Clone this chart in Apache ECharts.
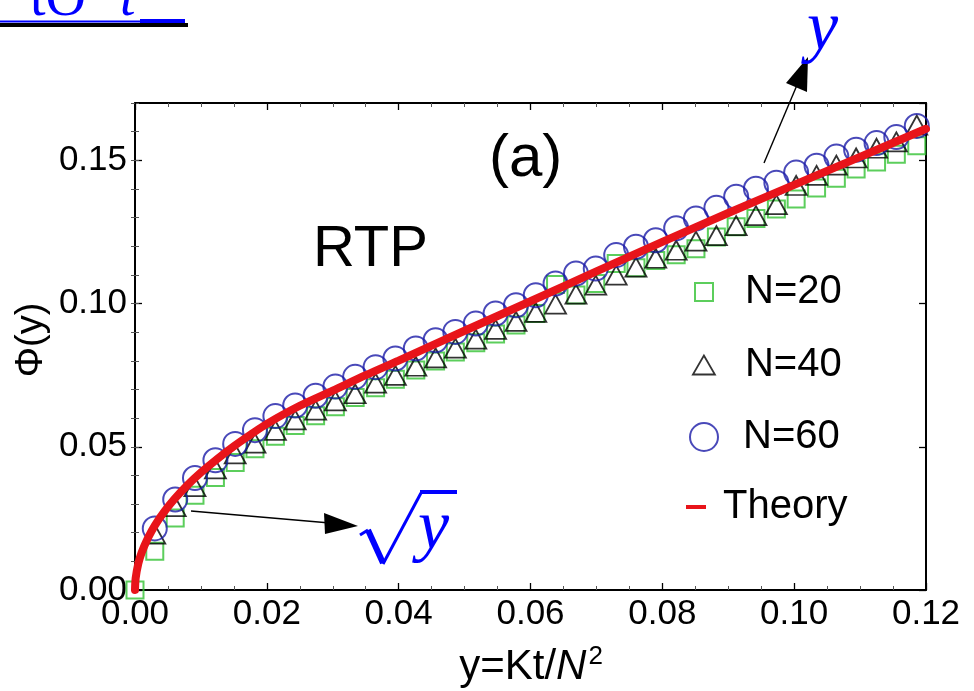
<!DOCTYPE html>
<html>
<head>
<meta charset="utf-8">
<script src="https://cdn.jsdelivr.net/npm/echarts@6/dist/echarts.min.js"></script>
<style>
  html, body { margin: 0; padding: 0; background: #fff; }
  #chart { width: 974px; height: 691px; }
</style>
</head>
<body>
<div id="chart"></div>
<script>
// Scaled time y = Kt/N^2 at which the simulated profiles were sampled
const yScaled = [0.0030, 0.0061, 0.0091, 0.0122, 0.0152, 0.0182, 0.0213, 0.0243, 0.0274, 0.0304,
                 0.0334, 0.0365, 0.0395, 0.0426, 0.0456, 0.0486, 0.0517, 0.0547, 0.0578, 0.0608,
                 0.0638, 0.0669, 0.0699, 0.0730, 0.0760, 0.0790, 0.0821, 0.0851, 0.0882, 0.0912,
                 0.0942, 0.0973, 0.1003, 0.1034, 0.1064, 0.1094, 0.1125, 0.1155, 0.1186];

// Simulation results Φ(y)
const phiN20 = [0.0135, 0.0251, 0.0331, 0.0393, 0.0445, 0.0493, 0.0537, 0.0574, 0.0608, 0.0640,
                0.0672, 0.0706, 0.0736, 0.0768, 0.0799, 0.0831, 0.0863, 0.0894, 0.0925, 0.0965,
                0.1066, 0.1030, 0.1070, 0.1140, 0.1125, 0.1150, 0.1170, 0.1191, 0.1232, 0.1268,
                0.1297, 0.1330, 0.1365, 0.1403, 0.1437, 0.1470, 0.1494, 0.1521, 0.1551];
const phiN40 = [0.0195, 0.0291, 0.0361, 0.0423, 0.0475, 0.0513, 0.0557, 0.0594, 0.0628, 0.0660,
                0.0685, 0.0722, 0.0749, 0.0781, 0.0810, 0.0844, 0.0876, 0.0910, 0.0938, 0.0969,
                0.0998, 0.1033, 0.1064, 0.1099, 0.1127, 0.1158, 0.1186, 0.1218, 0.1237, 0.1272,
                0.1307, 0.1345, 0.1412, 0.1447, 0.1483, 0.1508, 0.1542, 0.1564, 0.1623];
const phiN60 = [0.0215, 0.0316, 0.0391, 0.0453, 0.0510, 0.0558, 0.0607, 0.0644, 0.0678, 0.0710,
                0.0744, 0.0778, 0.0808, 0.0843, 0.0872, 0.0901, 0.0930, 0.0965, 0.0994, 0.1029,
                0.1070, 0.1105, 0.1122, 0.1169, 0.1198, 0.1221, 0.1263, 0.1297, 0.1334, 0.1373,
                0.1401, 0.1422, 0.1457, 0.1481, 0.1513, 0.1537, 0.1560, 0.1581, 0.1620];
// N=20 also has the initial point at the origin
const originN20 = [0, 0];

// Analytical curve
const theoryY   = [0, 0.0001, 0.0005, 0.001, 0.002, 0.003, 0.0045, 0.006, 0.008, 0.010, 0.0125, 0.015,
                   0.0175, 0.020, 0.025, 0.030, 0.035, 0.040, 0.050, 0.060, 0.070, 0.080, 0.090,
                   0.100, 0.110, 0.120];
const theoryPhi = [0, 0.0041, 0.0092, 0.0130, 0.0183, 0.0225, 0.0275, 0.0318, 0.0367, 0.0410, 0.0458, 0.0502,
                   0.0542, 0.0580, 0.0643, 0.0696, 0.0750, 0.0801, 0.0905, 0.1008, 0.1112, 0.1215, 0.1316,
                   0.1414, 0.1512, 0.1610];

// Axis ticks
const xTicks = { min: 0, max: 0.12, step: 0.02, minorSplit: 4 };
const yTicks = { min: 0, max: 0.17, step: 0.05, minorStep: 0.01 };

const seriesNames = ['N=20', 'N=40', 'N=60', 'Theory'];

const zip = (xs, ys) => xs.map((x, i) => [x, ys[i]]);
const fmt = v => v.toFixed(2);
const FONT = 'Liberation Sans';

const GREEN = '#33c233', BLACK = '#000', BLUE = '#1c1ca8', RED = '#e8141a';

const chart = echarts.init(document.getElementById('chart'), null, { renderer: 'canvas' });

const baseX = {
  type: 'value', min: xTicks.min, max: xTicks.max, interval: xTicks.step,
  splitLine: { show: false },
  axisLine: { show: true, onZero: false, lineStyle: { color: '#000', width: 2 } },
  axisTick: { show: true, inside: true, length: 7, lineStyle: { color: '#000', width: 1.3 } },
  minorTick: { show: true, splitNumber: xTicks.minorSplit, length: 4, lineStyle: { color: '#555', width: 1 } }
};
const baseYMajor = {
  type: 'value', min: yTicks.min, max: yTicks.max, interval: yTicks.step,
  splitLine: { show: false },
  axisLine: { show: true, onZero: false, lineStyle: { color: '#000', width: 2 } },
  axisTick: { show: true, inside: true, length: 7, lineStyle: { color: '#000', width: 1.3 } }
};
const baseYMinor = {
  type: 'value', min: yTicks.min, max: yTicks.max, interval: yTicks.minorStep,
  splitLine: { show: false },
  axisLine: { show: false },
  axisLabel: { show: false },
  axisTick: { show: true, inside: true, length: 4, lineStyle: { color: '#555', width: 1 } }
};

// one legend block per entry so every icon keeps its own size and place
function legendEntry(name, left, top, w, h, textPad, style, extra) {
  return Object.assign({
    data: [name], orient: 'vertical', left: left, top: top, padding: 0,
    itemWidth: w, itemHeight: h,
    textStyle: { fontFamily: FONT, fontSize: 40, color: '#000', padding: [0, 0, 0, textPad] },
    itemStyle: style, selectedMode: false
  }, extra || {});
}

const option = {
  animation: false,
  backgroundColor: '#fff',
  grid: { left: 135, right: 48, top: 103, bottom: 101, containLabel: false },
  xAxis: [
    Object.assign({}, baseX, {
      position: 'bottom',
      axisLabel: { show: true, formatter: fmt, fontFamily: FONT, fontSize: 35, color: '#000', margin: 7 }
    }),
    Object.assign({}, baseX, { position: 'top', axisLabel: { show: false } })
  ],
  yAxis: [
    Object.assign({}, baseYMajor, {
      position: 'left',
      axisLabel: { show: true, formatter: fmt, fontFamily: FONT, fontSize: 35, color: '#000', margin: 8, showMaxLabel: false }
    }),
    Object.assign({}, baseYMinor, { position: 'left' }),
    Object.assign({}, baseYMajor, { position: 'right', axisLabel: { show: false } }),
    Object.assign({}, baseYMinor, { position: 'right' })
  ],
  legend: [
    legendEntry('N=20', 694, 272, 18, 18, 27, { color: 'rgba(0,0,0,0)', borderColor: GREEN, borderWidth: 2 }),
    legendEntry('N=40', 692, 345, 22, 19, 25, { color: 'rgba(0,0,0,0)', borderColor: BLACK, borderWidth: 1.8 }),
    legendEntry('N=60', 689, 417, 28, 28, 20, { color: 'rgba(0,0,0,0)', borderColor: BLUE, borderWidth: 2 }),
    legendEntry('Theory', 686, 487, 20, 4, 12, { color: RED }, { icon: 'rect' })
  ],
  series: [
    {
      name: seriesNames[0], type: 'scatter', symbol: 'rect', symbolSize: 17,
      data: [originN20].concat(zip(yScaled, phiN20)),
      itemStyle: { color: 'rgba(0,0,0,0)', borderColor: GREEN, borderWidth: 2 },
      silent: true, z: 2
    },
    {
      name: seriesNames[1], type: 'scatter', symbol: 'triangle', symbolSize: [21, 19],
      data: zip(yScaled, phiN40),
      itemStyle: { color: 'rgba(0,0,0,0)', borderColor: BLACK, borderWidth: 1.8 },
      silent: true, z: 3
    },
    {
      name: seriesNames[2], type: 'scatter', symbol: 'circle', symbolSize: 24,
      data: zip(yScaled, phiN60),
      itemStyle: { color: 'rgba(0,0,0,0)', borderColor: BLUE, borderWidth: 2 },
      silent: true, z: 4
    },
    {
      name: seriesNames[3], type: 'line', smooth: 0.3, showSymbol: false, symbol: 'none',
      data: zip(theoryY, theoryPhi),
      lineStyle: { color: RED, width: 8, cap: 'round' },
      itemStyle: { color: RED },
      silent: true, z: 5
    }
  ],
  graphic: [
    // panel tag and model name
    { type: 'text', left: 489, top: 129, silent: true,
      style: { text: '(a)', font: '60px "Liberation Sans"', fill: '#000' } },
    { type: 'text', left: 313, top: 221, silent: true,
      style: { text: 'RTP', font: '58px "Liberation Sans"', fill: '#000' } },
    // axis titles
    { type: 'text', x: 32, y: 340, rotation: Math.PI / 2, silent: true,
      style: { text: 'Φ(y)', font: '38px "Liberation Sans"', fill: '#000', align: 'center', verticalAlign: 'middle' } },
    { type: 'text', x: 531, y: 667, silent: true,
      style: {
        text: '{a|y=Kt/}{n|N}{s|2}',
        align: 'center', verticalAlign: 'middle',
        rich: {
          a: { font: '42px "Liberation Sans"', fill: '#000' },
          n: { font: 'italic 42px "Liberation Sans"', fill: '#000' },
          s: { font: '26px "Liberation Sans"', fill: '#000', verticalAlign: 'top', padding: [0, 0, 21, 2] }
        }
      } },
    // arrow toward the linear regime
    { type: 'line', silent: true, shape: { x1: 764, y1: 163, x2: 800, y2: 78 },
      style: { stroke: '#000', lineWidth: 1.4 } },
    { type: 'polygon', silent: true, shape: { points: [[808, 57], [786, 83], [807, 92]] },
      style: { fill: '#000' } },
    { type: 'text', x: 807, y: -4, silent: true,
      style: { text: 'y', font: 'italic 70px "Liberation Serif"', fill: '#0000ff' } },
    // arrow toward the square-root regime
    { type: 'line', silent: true, shape: { x1: 191, y1: 511, x2: 330, y2: 523 },
      style: { stroke: '#000', lineWidth: 1.4 } },
    { type: 'polygon', silent: true, shape: { points: [[358, 526], [324, 513], [325, 534]] },
      style: { fill: '#000' } },
    // radical sign
    { type: 'polyline', silent: true, shape: { points: [[360, 535], [368, 530]] },
      style: { stroke: '#0000ff', lineWidth: 3 } },
    { type: 'line', silent: true, shape: { x1: 368, y1: 530, x2: 383, y2: 563 },
      style: { stroke: '#0000ff', lineWidth: 6 } },
    { type: 'line', silent: true, shape: { x1: 383, y1: 564, x2: 421, y2: 493 },
      style: { stroke: '#0000ff', lineWidth: 3 } },
    { type: 'rect', silent: true, shape: { x: 420, y: 490, width: 37, height: 4 },
      style: { fill: '#0000ff' } },
    { type: 'text', x: 418, y: 495, silent: true,
      style: { text: 'y', font: 'italic 70px "Liberation Serif"', fill: '#0000ff' } },
    // fragment of the preceding heading, cut by the page edge
    { type: 'text', x: 30, y: -28, silent: true,
      style: { text: 'tO', font: '56px "Liberation Serif"', fill: '#0000ff' } },
    { type: 'text', x: 120, y: -28, silent: true,
      style: { text: 't', font: 'italic 56px "Liberation Serif"', fill: '#0000ff' } },
    { type: 'rect', silent: true, shape: { x: 0, y: 20.5, width: 140, height: 2 }, style: { fill: '#0000ff' } },
    { type: 'rect', silent: true, shape: { x: 140, y: 19, width: 45, height: 4 }, style: { fill: '#0000ff' } },
    { type: 'rect', silent: true, shape: { x: 0, y: 23, width: 188, height: 4 }, style: { fill: '#000' } }
  ]
};

chart.setOption(option);
</script>
</body>
</html>
